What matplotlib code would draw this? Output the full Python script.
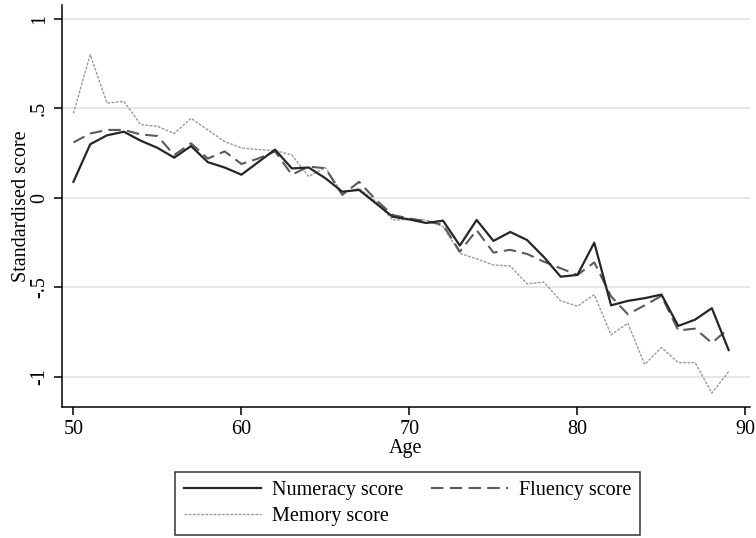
import matplotlib
matplotlib.use("Agg")
import matplotlib.pyplot as plt

# --------------------------------------------------------------
# Data
# --------------------------------------------------------------

age = list(range(50, 90))

numeracy = [0.09, 0.30, 0.35, 0.37, 0.32, 0.28, 0.225, 0.29, 0.20, 0.17,
            0.13, 0.20, 0.27, 0.165, 0.17, 0.11, 0.035, 0.045, -0.03, -0.105,
            -0.12, -0.14, -0.127, -0.266, -0.123, -0.24, -0.19, -0.235, -0.33, -0.44,
            -0.43, -0.25, -0.60, -0.575, -0.56, -0.54, -0.715, -0.68, -0.616, -0.85]

fluency = [0.31, 0.36, 0.38, 0.38, 0.355, 0.346, 0.24, 0.305, 0.22, 0.26,
           0.19, 0.22, 0.26, 0.13, 0.175, 0.166, 0.017, 0.09, -0.01, -0.095,
           -0.115, -0.13, -0.15, -0.30, -0.18, -0.305, -0.29, -0.313, -0.356, -0.393,
           -0.43, -0.36, -0.55, -0.65, -0.60, -0.547, -0.74, -0.73, -0.81, -0.73]

memory = [0.473, 0.80, 0.53, 0.54, 0.41, 0.40, 0.36, 0.445, 0.38, 0.315,
          0.28, 0.27, 0.265, 0.24, 0.12, 0.17, 0.026, 0.054, -0.02, -0.123,
          -0.12, -0.123, -0.16, -0.31, -0.34, -0.375, -0.38, -0.48, -0.47, -0.575,
          -0.605, -0.54, -0.765, -0.70, -0.93, -0.836, -0.92, -0.92, -1.09, -0.97]

xticks = [50, 60, 70, 80, 90]
yticks = [1, 0.5, 0, -0.5, -1]
ytick_labels = ["1", ".5", "0", "-.5", "-1"]

# --------------------------------------------------------------
# Plot
# --------------------------------------------------------------

plt.rcParams["font.family"] = ["Liberation Serif", "DejaVu Serif"]
fs = 14.5

fig = plt.figure(figsize=(7.56, 5.38), dpi=100)
ax = fig.add_axes([62 / 756, 1 - 407 / 538, (750 - 62) / 756, (407 - 5) / 538])

for y in yticks:
    ax.axhline(y, color="#e2e2e2", lw=1.2, zorder=0)

l_num, = ax.plot(age, numeracy, color="#262626", lw=1.6, label="Numeracy score", zorder=3)
l_flu, = ax.plot(age, fluency, color="#5a5a5a", lw=1.5, ls=(0, (6, 3)), label="Fluency score", zorder=2)
l_mem, = ax.plot(age, memory, color="#9a9a9a", lw=1.0, ls=(0, (2, 1)), label="Memory score", zorder=1)

ax.set_xlim(49.32, 90.27)
ax.set_ylim(-1.168, 1.078)

ax.set_xticks(xticks)
ax.set_xticklabels([str(x) for x in xticks], fontsize=fs)
ax.set_yticks(yticks)
ax.set_yticklabels(ytick_labels, fontsize=fs, rotation=90, va="center")
ax.tick_params(direction="out", length=5.5, width=1.1, color="black", pad=4)

for side in ["top", "right"]:
    ax.spines[side].set_visible(False)
for side in ["left", "bottom"]:
    ax.spines[side].set_linewidth(1.1)
    ax.spines[side].set_color("black")

ax.set_xlabel("Age", fontsize=fs, labelpad=0)
ax.set_ylabel("Standardised score", fontsize=fs, labelpad=-1)

# column-major fill: Numeracy / Memory in col 1, Fluency in col 2
leg = fig.legend([l_num, l_mem, l_flu],
                 ["Numeracy score", "Memory score", "Fluency score"],
                 loc="upper left", bbox_to_anchor=(175 / 756, 1 - 472 / 538),
                 ncol=2, fontsize=fs, frameon=True, fancybox=False,
                 handlelength=3.8, handletextpad=0.55, columnspacing=1.4,
                 labelspacing=0.35, borderpad=0.45, borderaxespad=0)
leg.get_frame().set_edgecolor("black")
leg.get_frame().set_linewidth(1.1)

fig.savefig("out.png", dpi=100)
